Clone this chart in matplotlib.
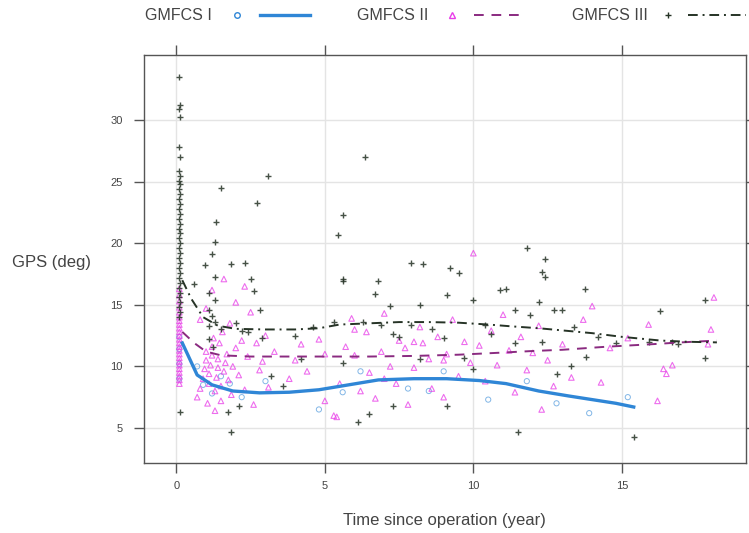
import matplotlib
matplotlib.use("Agg")
import matplotlib.pyplot as plt
from matplotlib.lines import Line2D

plt.rcParams['font.family'] = ['Liberation Sans', 'DejaVu Sans']

# ---------------- data ----------------
series_names = ["GMFCS I", "GMFCS II", "GMFCS III"]

# GMFCS III scatter (dark '+')
iii_x = [0.08, 0.12, 0.08, 0.12, 0.08, 0.12, 0.08, 0.12, 0.08, 0.12, 0.08, 0.12, 0.08,
         0.12, 0.08, 0.12, 0.08, 0.12, 0.08, 0.12, 0.08, 0.12, 0.08, 0.12, 0.08, 0.12,
         0.08, 0.12, 0.08, 0.12, 0.08, 0.12, 0.08, 0.12, 0.08, 0.12, 0.08, 0.12,
         1.5, 3.1, 2.7, 1.35, 1.3, 1.2, 0.95, 1.3, 1.85, 2.3, 2.5, 0.6, 1.1, 1.3, 2.6,
         2.8, 1.1, 1.2, 1.3, 1.1, 1.5, 2.2, 2.4, 1.1, 1.25, 3.2, 2.1, 1.85, 1.75,
         6.35, 5.6, 5.45, 7.9, 9.2, 9.5, 5.6, 6.8, 6.7, 10.9, 10.0, 9.1, 8.2, 7.2, 5.3,
         6.3, 6.9, 7.9, 10.4, 7.3, 7.5, 5.6, 8.2, 9.7, 10.0, 6.5, 6.1, 7.3, 9.1,
         11.8, 12.4, 12.3, 12.4, 13.75, 12.2, 12.7, 13.0, 16.3, 11.4, 11.9, 13.4, 12.3,
         11.4, 13.8, 13.3, 12.8, 15.9, 16.7, 11.5, 15.4, 17.8, 17.8,
         2.0, 2.9, 4.0, 4.6, 8.6, 9.0, 10.6, 14.2, 14.8, 16.9, 4.2, 3.6, 5.6, 8.3, 11.1]
iii_y = [33.5, 31.2, 30.9, 30.3, 27.8, 27.0, 25.9, 25.5, 25.1, 24.8, 24.4, 24.0, 23.6,
         23.2, 22.8, 22.4, 22.0, 21.6, 21.2, 20.8, 20.4, 20.0, 19.6, 19.2, 18.8, 18.4,
         18.0, 17.6, 17.2, 16.8, 16.4, 16.0, 15.6, 15.2, 14.8, 14.4, 14.0, 6.3,
         24.5, 25.5, 23.3, 21.7, 20.1, 19.1, 18.2, 17.3, 18.3, 18.4, 17.1, 16.7, 16.0, 15.4, 16.1,
         14.6, 14.6, 14.1, 13.6, 13.3, 13.0, 12.9, 12.8, 12.2, 11.6, 9.2, 6.8, 4.7, 6.3,
         27.0, 22.3, 20.7, 18.4, 18.0, 17.6, 16.9, 16.9, 15.9, 16.2, 15.4, 15.8, 15.0, 14.9, 13.6,
         13.6, 13.4, 13.4, 13.4, 12.6, 12.4, 10.3, 10.6, 10.7, 9.8, 6.1, 5.5, 6.8, 6.8,
         19.6, 18.7, 17.7, 17.3, 16.3, 15.2, 14.6, 14.6, 14.5, 14.6, 14.2, 13.2, 12.0,
         11.9, 10.8, 10.0, 9.4, 12.0, 12.0, 4.7, 4.3, 15.4, 10.7,
         13.5, 12.3, 12.5, 13.2, 13.0, 12.3, 12.6, 12.4, 11.9, 11.8, 10.6, 8.4, 17.1, 18.3, 16.3]

# GMFCS II scatter (magenta triangles)
ii_x = [0.1] * 24 + [
    0.7, 0.8, 0.9, 0.95, 1.0, 1.0, 1.05, 1.1, 1.1, 1.15, 1.2, 1.2, 1.25, 1.3, 1.3, 1.35,
    1.4, 1.4, 1.45, 1.5, 1.5, 1.55, 1.6, 1.65, 1.7, 1.75, 1.8, 1.85, 1.9, 2.0, 2.0, 2.1,
    2.2, 2.3, 2.4, 2.5, 2.6, 2.7, 2.8, 3.0, 3.1, 1.2, 1.6, 2.3, 0.8, 1.0, 2.9, 3.3,
    4.0, 4.4, 4.8, 5.0, 5.3, 5.5, 5.7, 5.9, 6.0, 6.2, 6.4, 6.5, 6.7, 6.9, 7.0, 7.2, 7.4,
    7.5, 7.7, 7.8, 8.0, 8.2, 8.3, 8.5, 8.6, 8.8, 9.0, 9.1, 9.3, 9.5, 9.7, 9.9, 10.0,
    10.2, 10.4, 10.6, 10.8, 11.0, 11.2, 11.4, 11.6, 11.8, 12.0, 12.2, 12.3, 12.5, 12.7,
    13.0, 13.3, 13.7, 14.0, 14.3, 14.6, 15.2, 15.9, 16.2, 16.4, 16.5, 16.7, 18.0, 18.1,
    17.9, 5.0, 6.0, 7.0, 8.0, 9.0, 4.2, 3.8, 5.4]
ii_y = [8.6, 8.9, 9.2, 9.5, 9.8, 10.1, 10.4, 10.7, 11.0, 11.3, 11.6, 11.9, 12.2, 12.5,
        12.8, 13.1, 13.4, 13.7, 14.0, 14.4, 14.8, 15.3, 15.8, 16.3,
        7.5, 8.2, 9.0, 9.8, 10.5, 11.2, 7.0, 8.6, 9.4, 10.1, 10.9, 11.6, 12.3, 8.0, 6.4, 9.1,
        9.9, 10.6, 11.9, 8.4, 7.2, 12.8, 9.6, 10.3, 11.0, 8.9, 13.5, 7.7, 10.0, 11.5, 15.2, 9.3,
        12.1, 8.1, 10.8, 14.4, 6.9, 11.9, 9.7, 12.5, 8.3, 16.2, 17.1, 16.5, 13.8, 14.7, 10.4, 11.2,
        10.5, 9.6, 12.2, 7.2, 6.0, 8.6, 11.6, 13.9, 10.9, 8.0, 12.8, 9.5, 7.4, 11.2, 14.3, 10.0, 8.6,
        12.1, 11.5, 6.9, 9.9, 13.2, 11.9, 10.6, 8.2, 12.4, 7.5, 11.0, 13.8, 9.2, 12.0, 10.3, 19.2,
        11.7, 8.8, 12.9, 10.1, 14.2, 11.3, 7.9, 12.4, 9.7, 11.1, 13.3, 6.5, 10.5, 8.4,
        11.8, 9.1, 13.8, 14.9, 8.7, 11.5, 12.3, 13.4, 7.2, 9.8, 9.4, 10.1, 13.0, 15.6,
        11.8, 11.0, 13.0, 9.0, 12.0, 10.5, 11.8, 9.0, 5.9]

# GMFCS I scatter (blue circles)
i_x = [0.1, 0.1, 0.1, 0.1, 0.9, 1.2, 1.5, 2.2, 3.0, 4.8, 5.6, 6.2, 7.8, 9.0, 10.5,
       11.8, 12.8, 13.9, 15.2, 0.7, 1.8, 8.5]
i_y = [9.0, 10.2, 11.4, 12.4, 8.5, 7.8, 9.2, 7.5, 8.8, 6.5, 7.9, 9.6, 8.2, 9.6, 7.3,
       8.8, 7.0, 6.2, 7.5, 10.0, 8.6, 8.0]

# smooth (loess) curves
i_line_x = [0.2, 0.45, 0.7, 1.2, 1.9, 2.8, 3.8, 4.8, 5.8, 6.8, 8.0, 9.1, 10.2, 11.1,
            12.2, 13.2, 14.0, 14.8, 15.4]
i_line_y = [11.9, 10.6, 9.3, 8.5, 8.0, 7.85, 7.9, 8.1, 8.5, 8.9, 9.0, 9.0, 8.85, 8.6,
            8.0, 7.6, 7.3, 7.0, 6.7]
ii_line_x = [0.2, 0.6, 1.0, 1.5, 2.5, 3.5, 5.0, 6.5, 8.0, 9.5, 10.8, 12.0, 13.0, 14.5,
             16.0, 17.0, 18.2]
ii_line_y = [12.8, 11.9, 11.2, 10.9, 10.8, 10.8, 10.8, 10.8, 10.85, 10.95, 11.1, 11.25,
             11.35, 11.6, 11.8, 11.95, 12.1]
iii_line_x = [0.2, 0.5, 0.9, 1.4, 2.0, 3.0, 4.0, 4.8, 5.5, 6.5, 7.5, 8.5, 9.5, 10.5,
              11.3, 12.2, 13.1, 14.0, 15.0, 16.3, 17.2, 18.2]
iii_line_y = [17.0, 15.5, 14.0, 13.3, 13.05, 13.0, 13.0, 13.1, 13.4, 13.5, 13.6, 13.6,
              13.55, 13.4, 13.25, 13.1, 12.9, 12.7, 12.4, 12.1, 12.0, 11.95]

x_ticks = [0, 5, 10, 15]
y_ticks = [5, 10, 15, 20, 25, 30]
x_label = "Time since operation (year)"
y_label = "GPS (deg)"

# ---------------- style ----------------
col_i = "#2f86d6"
col_ii = "#e83ce8"
col_ii_line = "#8a2a80"
col_iii = "#263326"
txt = "#444444"

fig = plt.figure(figsize=(7.49, 5.33), dpi=100)
W, H = 749, 533
L, R, T, B = 144, 746, 55, 463
ax = fig.add_axes([L / W, (H - B) / H, (R - L) / W, (B - T) / H])

ax.set_xlim(-1.09, 19.18)
ax.set_ylim(2.15, 35.3)

ax.grid(True, color="#e4e4e4", linewidth=1.0)
ax.set_axisbelow(True)

ax.scatter(i_x, i_y, s=14, facecolors="none", edgecolors=col_i, linewidths=0.7, alpha=0.6, zorder=2)
ax.scatter(ii_x, ii_y, s=16, marker="^", facecolors="none", edgecolors=col_ii, linewidths=0.8, alpha=0.75, zorder=3)
ax.scatter(iii_x, iii_y, s=20, marker="+", color=col_iii, linewidths=1.0, alpha=0.85, zorder=4)

ax.plot(i_line_x, i_line_y, color=col_i, linewidth=2.4, zorder=5)
ax.plot(ii_line_x, ii_line_y, color=col_ii_line, linewidth=1.4, linestyle=(0, (5, 4)), zorder=5)
ax.plot(iii_line_x, iii_line_y, color=col_iii, linewidth=1.4, linestyle=(0, (5, 2.5, 1, 2.5)), zorder=5)

ax.set_xticks(x_ticks)
ax.set_yticks(y_ticks)
ax.tick_params(axis="both", direction="out", length=7, width=1, color="#555555",
               labelsize=8, labelcolor=txt, top=True, right=True)
ax.tick_params(axis="x", pad=6)
ax.tick_params(axis="y", pad=8.5)
for s in ax.spines.values():
    s.set_color("#555555")
    s.set_linewidth(1.0)

fig.text(444 / W, 1 - 520 / H, x_label, ha="center", va="center", fontsize=12, color=txt)
fig.text(12 / W, 1 - 262 / H, y_label, ha="left", va="center", fontsize=12, color=txt)

# legend on top
leg_y = 1 - 15 / H
legend_items = [
    (145, 237, 260, 310, col_i, "o", dict(linestyle="-", linewidth=2.4), col_i),
    (357, 452, 474, 520, col_ii, "^", dict(linestyle=(0, (5, 4)), linewidth=1.4), col_ii_line),
    (572, 668, 688, 746, col_iii, "+", dict(linestyle=(0, (5, 2.5, 1, 2.5)), linewidth=1.4), col_iii),
]
for name, (tx, mx, lx0, lx1, mcol, mk, lkw, lcol) in zip(series_names, legend_items):
    fig.text(tx / W, leg_y, name, ha="left", va="center", fontsize=11.5, color=txt)
    fig.add_artist(Line2D([mx / W], [leg_y], marker=mk, markersize=4, color=mcol,
                          markerfacecolor="none", linestyle="none", transform=fig.transFigure))
    fig.add_artist(Line2D([lx0 / W, lx1 / W], [leg_y, leg_y], color=lcol,
                          transform=fig.transFigure, **lkw))

fig.savefig("out.png", dpi=100)
